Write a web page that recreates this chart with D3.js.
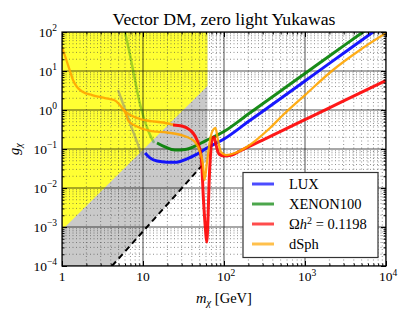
<!DOCTYPE html>
<html><head><meta charset="utf-8">
<script src="https://cdn.jsdelivr.net/npm/d3@7"></script>
<style>
html,body{margin:0;padding:0;background:#fff;}
svg{display:block;}
text{font-family:"Liberation Serif","Times New Roman",serif;fill:#000;}
</style></head>
<body>
<svg id="chart" width="415" height="312"></svg>
<script>
// ---------- data ----------
const massTicks = [1, 10, 100, 1000, 10000];
const massTickExps = ["", "", "2", "3", "4"];
const massTickBases = ["1", "10", "10", "10", "10"];
const gTicks = [1e2, 1e1, 1, 1e-1, 1e-2, 1e-3, 1e-4];
const gTickExps = ["2", "1", "0", "\u22121", "\u22122", "\u22123", "\u22124"];

const luxM = [10.6, 12.2, 14.9, 19.8, 26.3, 34.9, 46.4, 61.7, 100, 200, 500, 1000, 2000, 5000, 10000];
const luxG = [0.079, 0.059, 0.049, 0.046, 0.046, 0.056, 0.074, 0.106, 0.18, 0.506, 1.98, 5.57, 15.7, 61.4, 173];

const xenonM = [14.9, 18.7, 24.8, 33, 43.9, 58.3, 100, 200, 500, 1000, 2000, 5000, 10000];
const xenonG = [0.143, 0.113, 0.094, 0.097, 0.119, 0.160, 0.281, 0.789, 3.08, 8.63, 24.2, 94.5, 265];

const relicM = [23.5, 30.3, 38.0, 43.9, 49.1, 52.7, 55.8, 59.1, 61.1, 63.4, 65.3, 68.1, 71.1, 75.3, 79.7, 86.7, 100, 125.6, 157.7, 300, 1000, 3000, 10000];
const relicG = [0.412, 0.389, 0.307, 0.216, 0.119, 0.0522, 0.00492, 0.00084, 0.00041, 0.00151, 0.0119, 0.0702, 0.170, 0.203, 0.127, 0.0744, 0.0662, 0.0702, 0.0889, 0.169, 0.566, 1.71, 5.70];

const dsphM = [1, 1.059, 1.153, 1.255, 1.367, 1.532, 1.817, 2.345, 3.40, 4.39, 5.05, 5.66, 6.0, 6.62, 8.43, 12.2, 19.8, 34.9, 43.9, 50.6, 55.1, 57.4, 61.7, 67.2, 73.1, 78.5, 84.3, 91.8, 106, 137, 182, 241, 370, 535, 1000, 2218, 4775, 10000];
const dsphG = [38.9, 28.9, 17.0, 10.0, 5.87, 3.89, 2.90, 2.42, 2.03, 1.80, 1.43, 1.06, 0.889, 0.522, 0.378, 0.290, 0.265, 0.203, 0.151, 0.0838, 0.0389, 0.016, 0.0464, 0.170, 0.307, 0.345, 0.170, 0.0838, 0.070, 0.0789, 0.106, 0.160, 0.345, 0.745, 2.42, 10.6, 34.5, 94.2];

const dsph2M = [5.66, 6.35, 9.18, 12.2, 17.7, 24.8];
const dsph2G = [1.06, 0.838, 0.588, 0.522, 0.478, 0.412];

const faintGreenM = [6.0, 6.91, 7.97, 8.93, 10, 11.5, 13.7];
const faintGreenG = [100, 25.7, 5.87, 1.80, 0.745, 0.307, 0.143];
const faintGrayM = [4.91, 5.51, 6.17, 7.11, 8.43, 10];
const faintGrayG = [3.26, 1.70, 0.889, 0.389, 0.151, 0.0588];

const dashedM = [4.14, 10, 25, 53];
const dashedG = [1e-4, 7.7e-4, 6.4e-3, 0.037];

const yellowM = [1, 62.5, 62.5, 1];
const yellowG = [8.4e-4, 4.1, 100, 100];
const grayM = [1, 4.14, 62.5, 62.5, 1];
const grayG = [1e-4, 1e-4, 0.053, 100, 100];

const legendLabels = ["LUX", "XENON100", "relic", "dSph"];
const seriesColors = ["#0000ff", "#008000", "#ff0000", "#ffa500"];

// ---------- layout ----------
const L = 62, R = 386, T = 32, B = 266;
const svg = d3.select("#chart");
const x = d3.scaleLog().domain([1, 1e4]).range([L, R]);
const y = d3.scaleLog().domain([1e-4, 1e2]).range([B, T]);

svg.append("defs").append("clipPath").attr("id", "clip")
  .append("rect").attr("x", L).attr("y", T).attr("width", R - L).attr("height", B - T);

const zip = (a, b) => a.map((v, i) => [v, b[i]]);
const line = d3.line().x(d => x(d[0])).y(d => y(d[1]));
const smooth = d3.line().x(d => x(d[0])).y(d => y(d[1])).curve(d3.curveMonotoneX);

const plot = svg.append("g").attr("clip-path", "url(#clip)");

// regions
plot.append("path").attr("d", line(zip(grayM, grayG)) + "Z").attr("fill", "#c9c9c9");
plot.append("path").attr("d", line(zip(yellowM, yellowG)) + "Z").attr("fill", "#ffff33");

// grid
const xMinor = x.ticks().filter(v => !massTicks.includes(v));
const yMinor = y.ticks().filter(v => !gTicks.some(t => Math.abs(t - v) / t < 1e-6));
plot.selectAll(".xmin").data(xMinor).join("line")
  .attr("x1", d => x(d)).attr("x2", d => x(d)).attr("y1", T).attr("y2", B)
  .attr("stroke", "#444").attr("stroke-width", 0.6).attr("stroke-dasharray", "1,2.5");
plot.selectAll(".ymin").data(yMinor).join("line")
  .attr("y1", d => y(d)).attr("y2", d => y(d)).attr("x1", L).attr("x2", R)
  .attr("stroke", "#444").attr("stroke-width", 0.6).attr("stroke-dasharray", "1,2.5");
plot.selectAll(".xmaj").data(massTicks).join("line")
  .attr("x1", d => x(d)).attr("x2", d => x(d)).attr("y1", T).attr("y2", B)
  .attr("stroke", "#000").attr("stroke-width", 0.8).attr("opacity", 0.85);
plot.selectAll(".ymaj").data(gTicks).join("line")
  .attr("y1", d => y(d)).attr("y2", d => y(d)).attr("x1", L).attr("x2", R)
  .attr("stroke", "#000").attr("stroke-width", 0.8).attr("opacity", 0.85);

// dashed line
plot.append("path").attr("d", line(zip(dashedM, dashedG))).attr("fill", "none")
  .attr("stroke", "#000").attr("stroke-width", 2).attr("stroke-dasharray", "6,4");

// faint lines
plot.append("path").attr("d", smooth(zip(faintGrayM, faintGrayG))).attr("fill", "none")
  .attr("stroke", "#808080").attr("stroke-opacity", 0.5).attr("stroke-width", 2.5);
plot.append("path").attr("d", smooth(zip(faintGreenM, faintGreenG))).attr("fill", "none")
  .attr("stroke", "#008000").attr("stroke-opacity", 0.35).attr("stroke-width", 2.5);

// main lines
const drawLine = (m, g, color, w) => plot.append("path").attr("d", smooth(zip(m, g)))
  .attr("fill", "none").attr("stroke", color).attr("stroke-width", w)
  .attr("stroke-linejoin", "round").attr("stroke-opacity", 0.9);
drawLine(luxM, luxG, seriesColors[0], 3);
drawLine(xenonM, xenonG, seriesColors[1], 3);
drawLine(dsph2M, dsph2G, seriesColors[3], 2.3);
drawLine(relicM, relicG, seriesColors[2], 3);
drawLine(dsphM, dsphG, seriesColors[3], 2.3);

// axes ticks (inward, all four sides)
const tickStyle = g => { g.select(".domain").remove(); g.selectAll("text").remove(); g.selectAll("line").attr("stroke", "#000"); };
svg.append("g").attr("transform", `translate(0,${B})`).call(d3.axisBottom(x).tickValues(massTicks).tickSize(-5)).call(tickStyle);
svg.append("g").attr("transform", `translate(0,${B})`).call(d3.axisBottom(x).tickValues(xMinor).tickSize(-2.5)).call(tickStyle);
svg.append("g").attr("transform", `translate(0,${T})`).call(d3.axisTop(x).tickValues(massTicks).tickSize(-5)).call(tickStyle);
svg.append("g").attr("transform", `translate(0,${T})`).call(d3.axisTop(x).tickValues(xMinor).tickSize(-2.5)).call(tickStyle);
svg.append("g").attr("transform", `translate(${L},0)`).call(d3.axisLeft(y).tickValues(gTicks).tickSize(-5)).call(tickStyle);
svg.append("g").attr("transform", `translate(${L},0)`).call(d3.axisLeft(y).tickValues(yMinor).tickSize(-2.5)).call(tickStyle);
svg.append("g").attr("transform", `translate(${R},0)`).call(d3.axisRight(y).tickValues(gTicks).tickSize(-5)).call(tickStyle);
svg.append("g").attr("transform", `translate(${R},0)`).call(d3.axisRight(y).tickValues(yMinor).tickSize(-2.5)).call(tickStyle);

// frame
svg.append("rect").attr("x", L).attr("y", T).attr("width", R - L).attr("height", B - T)
  .attr("fill", "none").attr("stroke", "#000").attr("stroke-width", 1.2);

// tick labels
massTicks.forEach((v, i) => {
  const t = svg.append("text").attr("x", x(v) + (massTickExps[i] ? 2 : 0)).attr("y", 281).attr("text-anchor", "middle").attr("font-size", 13.5);
  t.append("tspan").text(massTickBases[i]);
  if (massTickExps[i]) t.append("tspan").attr("dy", -5.5).attr("font-size", 9.5).text(massTickExps[i]);
});
gTicks.forEach((v, i) => {
  const t = svg.append("text").attr("x", 57).attr("y", y(v) + 4.5).attr("text-anchor", "end").attr("font-size", 13.5);
  t.append("tspan").text("10");
  t.append("tspan").attr("dy", -5.5).attr("font-size", 9.5).text(gTickExps[i]);
});

// title & axis labels
svg.append("text").attr("x", (L + R) / 2).attr("y", 25).attr("text-anchor", "middle")
  .attr("font-size", 17.7).text("Vector DM, zero light Yukawas");
const xl = svg.append("text").attr("x", (L + R) / 2).attr("y", 303).attr("text-anchor", "middle").attr("font-size", 14.5);
xl.append("tspan").attr("font-style", "italic").text("m");
xl.append("tspan").attr("font-style", "italic").attr("font-size", 10.5).attr("dy", 3).text("\u03c7");
xl.append("tspan").attr("dy", -3).text(" [GeV]");
const yl = svg.append("text").attr("transform", `translate(19,${(T + B) / 2}) rotate(-90)`).attr("text-anchor", "middle").attr("font-size", 14.5);
yl.append("tspan").attr("font-style", "italic").text("g");
yl.append("tspan").attr("font-style", "italic").attr("font-size", 10.5).attr("dy", 3).text("\u03c7");

// legend
const lg = svg.append("g");
lg.append("rect").attr("x", 243).attr("y", 172.5).attr("width", 135).attr("height", 85)
  .attr("fill", "#fff").attr("stroke", "#333").attr("stroke-width", 1.2);
legendLabels.forEach((lab, i) => {
  const yy = 184 + i * 20;
  lg.append("line").attr("x1", 252).attr("x2", 274).attr("y1", yy).attr("y2", yy)
    .attr("stroke", seriesColors[i]).attr("stroke-width", 3).attr("stroke-opacity", 0.7);
  const t = lg.append("text").attr("x", 289).attr("y", yy + 5).attr("font-size", 14.5);
  if (lab === "relic") {
    t.append("tspan").text("\u03a9");
    t.append("tspan").attr("font-style", "italic").text("h");
    t.append("tspan").attr("dy", -5.5).attr("font-size", 10).text("2");
    t.append("tspan").attr("dy", 5.5).text(" = 0.1198");
  } else {
    t.text(lab);
  }
});
</script>
</body></html>
